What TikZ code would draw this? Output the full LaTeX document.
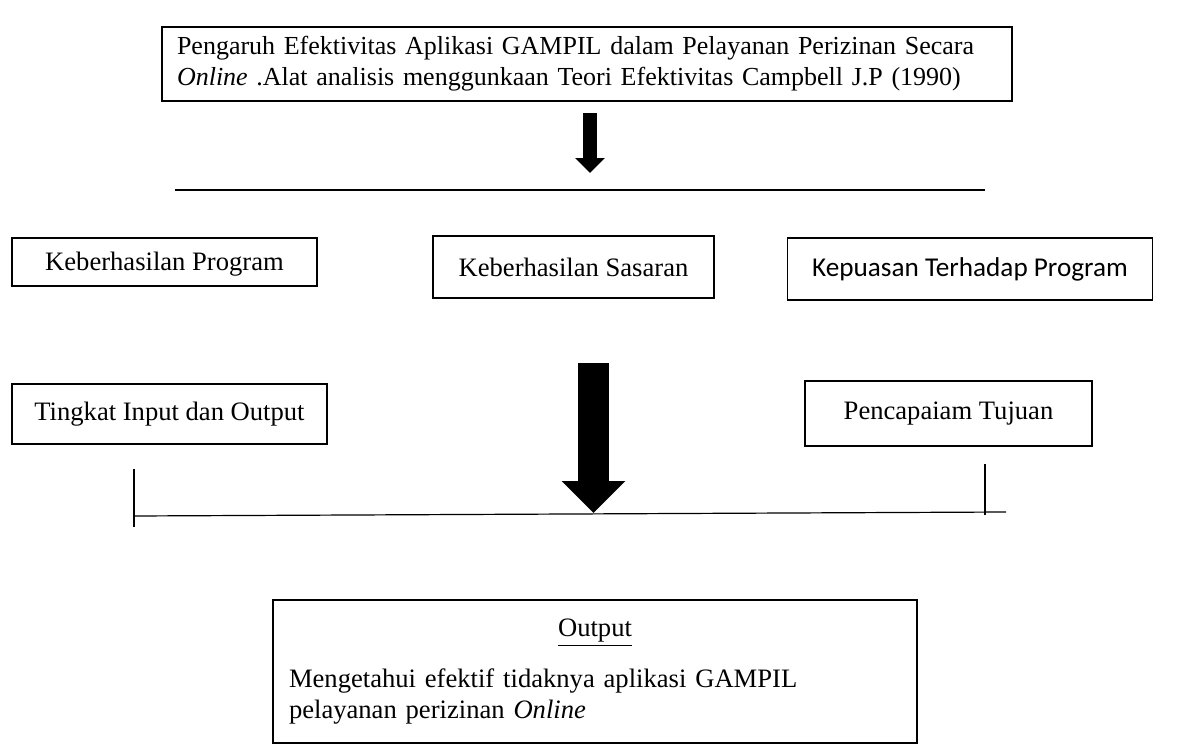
\documentclass[tikz,border=0pt]{standalone}
\usepackage{fontspec}
\setmainfont{Liberation Serif}
\newfontfamily\calibri{Carlito}
\usetikzlibrary{arrows.meta}

\begin{document}
\begin{tikzpicture}[
            x = 0.5pt, y = -0.5pt, % one unit = one pixel, y goes down
            semithick, % line style
            box/.style = {draw=black, inner sep=0pt, font=\fontsize{13.3}{15.5}\selectfont},
            small arrow/.style = {line width=7pt, -{Triangle[length=7.5pt,width=14.5pt]}},
            big arrow/.style = {line width=15.5pt, -{Triangle[length=16pt,width=31pt]}}
        ]
\useasboundingbox (0,0) rectangle (1190,744);

\node[box, minimum width=425pt, minimum height=37pt, text width=410pt, align=left, font=\fontsize{13}{15.5}\selectfont] (top) at (587,64)
  {Pengaruh Efektivitas Aplikasi GAMPIL dalam Pelayanan Perizinan Secara\\
   \textit{Online} .Alat analisis menggunkaan Teori Efektivitas Campbell J.P (1990)};

\coordinate (s1) at (590,113);
\coordinate (e1) at (590,173);
\draw[small arrow] (s1) -- (e1);

\coordinate (l1a) at (175,190);
\coordinate (l1b) at (985,190);
\draw (l1a) -- (l1b);

\node[box, minimum width=152.5pt, minimum height=24pt, text depth=1pt] (prog) at (164.5,262) {Keberhasilan Program};
\node[box, minimum width=140.5pt, minimum height=31pt] (sasaran) at (573.5,267) {Keberhasilan Sasaran};
\node[box, minimum width=182.5pt, minimum height=31pt, font=\calibri\fontsize{13.6}{16}\selectfont] (puas) at (970,269) {Kepuasan Terhadap Program};

\node[box, minimum width=157.5pt, minimum height=30pt] (tingkat) at (169.5,414) {Tingkat Input dan Output};
\node[box, minimum width=143.5pt, minimum height=32.5pt] (capai) at (948.5,413.5) {Pencapaiam Tujuan};

\coordinate (s2) at (593.5,363);
\coordinate (e2) at (593.5,513);
\draw[big arrow] (s2) -- (e2);

\coordinate (l2a) at (134,516);
\coordinate (l2b) at (1006,512);
\draw (l2a) -- (l2b);
\coordinate (t1a) at (134,469);
\coordinate (t1b) at (134,527);
\draw (t1a) -- (t1b);
\coordinate (t2a) at (985,464);
\coordinate (t2b) at (985,515);
\draw (t2a) -- (t2b);

\node[box, minimum width=322pt, minimum height=71.5pt, text width=306pt, align=left] (out) at (595,671.5)
  {\makebox[\linewidth]{\underline{Output}}\\[10pt]
   Mengetahui efektif tidaknya aplikasi GAMPIL\\
   pelayanan perizinan \textit{Online}};
\end{tikzpicture}
\end{document}
